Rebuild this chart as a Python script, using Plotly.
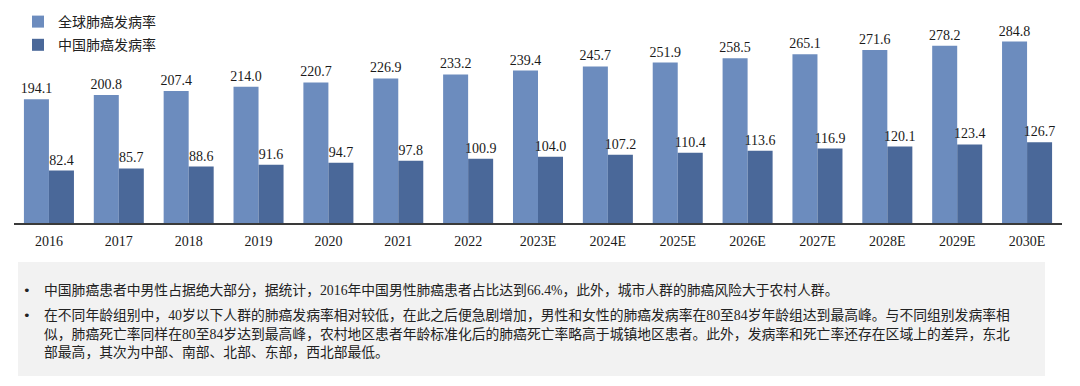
import plotly.graph_objects as go

years = ["2016", "2017", "2018", "2019", "2020", "2021", "2022", "2023E", "2024E",
         "2025E", "2026E", "2027E", "2028E", "2029E", "2030E"]
global_rate = [194.1, 200.8, 207.4, 214.0, 220.7, 226.9, 233.2, 239.4, 245.7,
               251.9, 258.5, 265.1, 271.6, 278.2, 284.8]
china_rate = [82.4, 85.7, 88.6, 91.6, 94.7, 97.8, 100.9, 104.0, 107.2,
              110.4, 113.6, 116.9, 120.1, 123.4, 126.7]
series_names = ["全球肺癌发病率", "中国肺癌发病率"]

note_lines = [
    "中国肺癌患者中男性占据绝大部分，据统计，2016年中国男性肺癌患者占比达到66.4%，此外，城市人群的肺癌风险大于农村人群。",
    "在不同年龄组别中，40岁以下人群的肺癌发病率相对较低，在此之后便急剧增加，男性和女性的肺癌发病率在80至84岁年龄组达到最高峰。与不同组别发病率相",
    "似，肺癌死亡率同样在80至84岁达到最高峰，农村地区患者年龄标准化后的肺癌死亡率略高于城镇地区患者。此外，发病率和死亡率还存在区域上的差异，东北",
    "部最高，其次为中部、南部、北部、东部，西北部最低。",
]
note_bullet = [True, True, False, False]

# the page body has an 8px margin, so the figure is drawn 8px in from the corner
OFF = 8
W, H = 1080 - OFF, 386 - OFF
ML, MT = 14 - OFF, 10 - OFF
MR, MB = 18, 163
PW, PH = W - ML - MR, H - MT - MB

def px_x(x):
    return (x - OFF - ML) / PW

def px_y(y):
    return (H - MB - (y - OFF)) / PH

SERIF = "Liberation Serif, Noto Serif CJK SC, Noto Sans CJK SC, serif"
CJK = "Liberation Serif, Noto Sans CJK SC, sans-serif"

fig = go.Figure()
fig.add_trace(go.Bar(
    x=years, y=global_rate, name=series_names[0], legendgroup="g1",
    marker=dict(color="#6c8cbe", line=dict(width=0)),
    text=[f"{v:.1f}" for v in global_rate], textposition="outside",
    textfont=dict(family=SERIF, size=14, color="#1a1a1a"),
    constraintext="none", cliponaxis=False,
))
fig.add_trace(go.Bar(
    x=years, y=china_rate, name=series_names[1], legendgroup="g2",
    marker=dict(color="#4a6899", line=dict(width=0)),
    text=[f"{v:.1f}" for v in china_rate], textposition="outside",
    textfont=dict(family=SERIF, size=14, color="#1a1a1a"),
    constraintext="none", cliponaxis=False,
))

shapes = [dict(
    type="rect", xref="paper", yref="paper",
    x0=px_x(18), x1=px_x(1045), y0=px_y(376), y1=px_y(262),
    fillcolor="#f2f2f2", line=dict(width=0), layer="below",
)]

annotations = []
line_y = [290, 315, 333.5, 352]
for txt, b, yy in zip(note_lines, note_bullet, line_y):
    annotations.append(dict(
        xref="paper", yref="paper", x=px_x(42), y=px_y(yy),
        xanchor="left", yanchor="middle", showarrow=False, text=txt,
        font=dict(family=CJK, size=13.8, color="#222222"),
    ))
    if b:
        annotations.append(dict(
            xref="paper", yref="paper", x=px_x(27), y=px_y(yy),
            xanchor="center", yanchor="middle", showarrow=False, text="•",
            font=dict(family="DejaVu Sans", size=13, color="#222222"),
        ))

fig.update_layout(
    width=W, height=H,
    margin=dict(l=ML, r=MR, t=MT, b=MB, autoexpand=False),
    paper_bgcolor="white", plot_bgcolor="white",
    barmode="group", bargap=0.284, bargroupgap=0,
    showlegend=True,
    legend=dict(
        x=px_x(18), y=px_y(6), xanchor="left", yanchor="top",
        font=dict(family=CJK, size=14, color="#222222"),
        bgcolor="rgba(0,0,0,0)",
        traceorder="grouped", tracegroupgap=2,
    ),
    xaxis=dict(
        showgrid=False, zeroline=False, showline=True,
        linecolor="#3a3a3a", linewidth=1.5, ticks="",
        tickfont=dict(family=SERIF, size=14, color="#1a1a1a"),
        ticklabelstandoff=4,
    ),
    yaxis=dict(
        range=[0, PH / 0.637], visible=False, showgrid=False, zeroline=False,
    ),
    shapes=shapes,
    annotations=annotations,
)

fig.write_html("out.html")
